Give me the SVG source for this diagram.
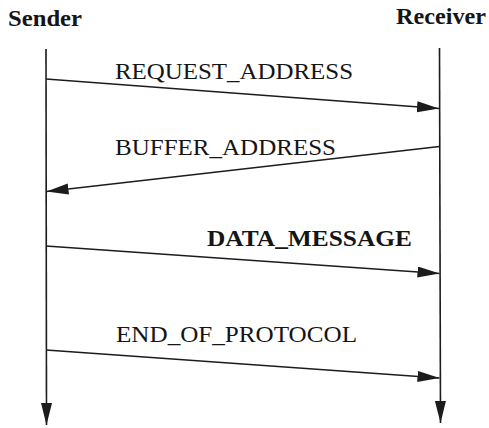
<svg xmlns="http://www.w3.org/2000/svg" width="489" height="428" viewBox="0 0 489 428">
<style>
.hd{font-family:"Liberation Serif","Times New Roman",serif;font-weight:bold;font-size:24px;fill:#151515}
.lb{font-family:"Liberation Serif","Times New Roman",serif;font-size:24px;fill:#151515}
.lbb{font-family:"Liberation Serif","Times New Roman",serif;font-weight:bold;font-size:24px;fill:#151515}
.ln{stroke:#1c1c1c;stroke-width:1.6;fill:none}
</style>
<defs>
<marker id="ah" markerUnits="userSpaceOnUse" markerWidth="23" markerHeight="12" refX="22" refY="5.5" orient="auto">
<path d="M0,0 L22,5.5 L0,11 Z" fill="#1c1c1c"/>
</marker>
</defs>
<rect width="489" height="428" fill="#ffffff"/>
<g id="sender">
<text class="hd" x="8" y="26" textLength="74" lengthAdjust="spacingAndGlyphs">Sender</text>
</g>
<g id="receiver">
<text class="hd" x="396" y="24" textLength="90" lengthAdjust="spacingAndGlyphs">Receiver</text>
</g>
<g id="connectors">
<line class="ln" x1="46" y1="49" x2="46.5" y2="425" marker-end="url(#ah)"/>
<line class="ln" x1="439.5" y1="48" x2="440.5" y2="423" marker-end="url(#ah)"/>
<line class="ln" x1="46" y1="79" x2="439" y2="108.5" marker-end="url(#ah)"/>
<line class="ln" x1="439.5" y1="146.5" x2="46.5" y2="191.5" marker-end="url(#ah)"/>
<line class="ln" x1="46" y1="246" x2="439.5" y2="273.5" marker-end="url(#ah)"/>
<line class="ln" x1="46" y1="350" x2="439.5" y2="378" marker-end="url(#ah)"/>
<text class="lb" x="115" y="79" textLength="238" lengthAdjust="spacingAndGlyphs">REQUEST_ADDRESS</text>
<text class="lb" x="115" y="155" textLength="221" lengthAdjust="spacingAndGlyphs">BUFFER_ADDRESS</text>
<text class="lbb" x="207" y="246" textLength="205" lengthAdjust="spacingAndGlyphs">DATA_MESSAGE</text>
<text class="lb" x="116" y="342" textLength="241" lengthAdjust="spacingAndGlyphs">END_OF_PROTOCOL</text>
</g>
</svg>
